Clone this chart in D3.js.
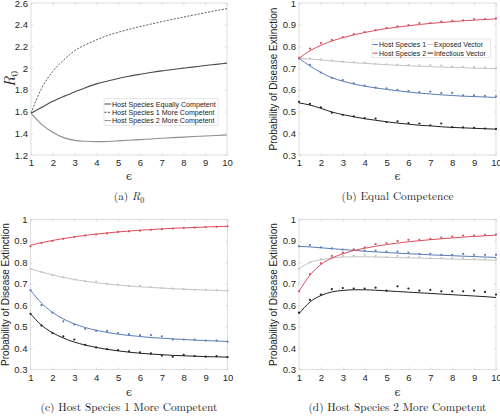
<!DOCTYPE html>
<html>
<head>
<meta charset="utf-8">
<script src="https://cdn.jsdelivr.net/npm/d3@7"></script>
<style>
  html, body { margin: 0; padding: 0; background: #fff; }
  svg { display: block; }
</style>
</head>
<body>
<svg id="chart" width="500" height="417"></svg>
<script>
// ---------- DATA ----------
const eps = [1, 1.5, 2, 2.5, 3, 3.5, 4, 4.5, 5, 5.5, 6, 6.5, 7, 7.5, 8, 8.5, 9, 9.5, 10];
const xTicks = [1, 2, 3, 4, 5, 6, 7, 8, 9, 10];
const r0Ticks = [1.2, 1.4, 1.6, 1.8, 2, 2.2, 2.4, 2.6];
const probTicks = [0.3, 0.4, 0.5, 0.6, 0.7, 0.8, 0.9, 1];

// (a) R0
const r0Equal = [1.585, 1.64, 1.695, 1.74, 1.78, 1.82, 1.855, 1.88, 1.905, 1.925, 1.943, 1.96, 1.975, 1.988, 2.0, 2.012, 2.024, 2.035, 2.046];
const r0Host1 = [1.585, 1.82, 1.97, 2.075, 2.16, 2.215, 2.26, 2.3, 2.33, 2.358, 2.383, 2.405, 2.428, 2.45, 2.47, 2.49, 2.51, 2.53, 2.548];
const r0Host2 = [1.585, 1.48, 1.41, 1.36, 1.335, 1.326, 1.323, 1.325, 1.33, 1.336, 1.342, 1.348, 1.354, 1.36, 1.365, 1.37, 1.375, 1.38, 1.384];
const r0Legend = ["Host Species Equally Competent", "Host Species 1 More Competent", "Host Species 2 More Competent"];

// (b) Equal competence: curve (analytic) and sim (points)
const bHost1Curve = [0.745, 0.71, 0.68, 0.656, 0.64, 0.627, 0.617, 0.609, 0.602, 0.596, 0.59, 0.585, 0.581, 0.577, 0.574, 0.571, 0.569, 0.567, 0.565];
const bHost1Sim   = [0.745, 0.715, 0.68, 0.655, 0.645, 0.63, 0.62, 0.61, 0.607, 0.6, 0.594, 0.59, 0.592, 0.585, 0.586, 0.575, 0.575, 0.572, 0.57];
const bHost2Curve = [0.745, 0.78, 0.805, 0.825, 0.84, 0.853, 0.864, 0.874, 0.882, 0.889, 0.895, 0.901, 0.906, 0.91, 0.914, 0.918, 0.921, 0.924, 0.927];
const bHost2Sim   = [0.745, 0.79, 0.815, 0.83, 0.843, 0.857, 0.866, 0.875, 0.885, 0.892, 0.898, 0.908, 0.908, 0.914, 0.918, 0.92, 0.926, 0.926, 0.929];
const bExpCurve   = [0.745, 0.742, 0.738, 0.733, 0.729, 0.725, 0.722, 0.719, 0.716, 0.713, 0.711, 0.709, 0.707, 0.705, 0.703, 0.702, 0.7, 0.699, 0.698];
const bExpSim     = [0.75, 0.745, 0.74, 0.735, 0.73, 0.727, 0.725, 0.72, 0.718, 0.716, 0.715, 0.713, 0.714, 0.712, 0.707, 0.706, 0.705, 0.703, 0.7];
const bInfCurve   = [0.54, 0.53, 0.515, 0.498, 0.486, 0.476, 0.467, 0.46, 0.453, 0.447, 0.442, 0.437, 0.434, 0.43, 0.427, 0.425, 0.423, 0.421, 0.419];
const bInfSim     = [0.545, 0.535, 0.52, 0.495, 0.485, 0.478, 0.47, 0.468, 0.452, 0.455, 0.447, 0.445, 0.437, 0.445, 0.428, 0.427, 0.425, 0.422, 0.42];

// (c) Host species 1 more competent
const cHost1Curve = [0.67, 0.61, 0.567, 0.536, 0.513, 0.496, 0.483, 0.473, 0.465, 0.459, 0.454, 0.449, 0.446, 0.443, 0.44, 0.437, 0.435, 0.433, 0.431];
const cHost1Sim   = [0.67, 0.6, 0.565, 0.525, 0.51, 0.49, 0.48, 0.48, 0.47, 0.465, 0.46, 0.46, 0.455, 0.44, 0.44, 0.44, 0.435, 0.435, 0.43];
const cHost2Curve = [0.88, 0.892, 0.902, 0.911, 0.919, 0.926, 0.932, 0.937, 0.942, 0.946, 0.95, 0.953, 0.956, 0.959, 0.961, 0.963, 0.965, 0.967, 0.968];
const cHost2Sim   = [0.875, 0.89, 0.9, 0.91, 0.918, 0.925, 0.93, 0.935, 0.942, 0.945, 0.948, 0.952, 0.955, 0.958, 0.96, 0.962, 0.965, 0.966, 0.968];
const cExpCurve   = [0.77, 0.755, 0.742, 0.73, 0.72, 0.712, 0.705, 0.699, 0.694, 0.69, 0.686, 0.683, 0.68, 0.677, 0.675, 0.673, 0.671, 0.669, 0.667];
const cExpSim     = [0.77, 0.755, 0.74, 0.73, 0.72, 0.712, 0.71, 0.7, 0.695, 0.69, 0.69, 0.685, 0.68, 0.677, 0.675, 0.672, 0.672, 0.67, 0.668];
const cInfCurve   = [0.56, 0.507, 0.472, 0.447, 0.428, 0.414, 0.403, 0.394, 0.387, 0.381, 0.376, 0.372, 0.369, 0.366, 0.364, 0.362, 0.36, 0.359, 0.358];
const cInfSim     = [0.56, 0.505, 0.47, 0.455, 0.44, 0.415, 0.403, 0.395, 0.39, 0.385, 0.38, 0.375, 0.365, 0.36, 0.368, 0.363, 0.36, 0.362, 0.358];

// (d) Host species 2 more competent
const dHost1Curve = [0.875, 0.872, 0.868, 0.864, 0.86, 0.856, 0.852, 0.849, 0.846, 0.843, 0.84, 0.838, 0.835, 0.833, 0.831, 0.829, 0.827, 0.825, 0.823];
const dHost1Sim   = [0.875, 0.88, 0.87, 0.865, 0.86, 0.86, 0.855, 0.855, 0.85, 0.85, 0.845, 0.84, 0.84, 0.835, 0.835, 0.84, 0.835, 0.835, 0.835];
const dHost2Curve = [0.665, 0.74, 0.79, 0.82, 0.84, 0.855, 0.866, 0.875, 0.883, 0.89, 0.896, 0.901, 0.906, 0.91, 0.914, 0.918, 0.921, 0.924, 0.927];
const dHost2Sim   = [0.665, 0.745, 0.795, 0.83, 0.845, 0.86, 0.87, 0.885, 0.89, 0.9, 0.905, 0.905, 0.91, 0.915, 0.92, 0.925, 0.925, 0.928, 0.93];
const dExpCurve   = [0.77, 0.8, 0.812, 0.82, 0.825, 0.826, 0.826, 0.825, 0.824, 0.822, 0.821, 0.82, 0.818, 0.817, 0.815, 0.814, 0.813, 0.811, 0.81];
const dExpSim     = [0.77, 0.8, 0.815, 0.82, 0.83, 0.83, 0.835, 0.83, 0.825, 0.83, 0.825, 0.825, 0.82, 0.82, 0.82, 0.82, 0.815, 0.815, 0.815];
const dInfCurve   = [0.56, 0.615, 0.645, 0.662, 0.669, 0.672, 0.672, 0.67, 0.667, 0.664, 0.661, 0.658, 0.655, 0.652, 0.649, 0.646, 0.643, 0.64, 0.636];
const dInfSim     = [0.565, 0.625, 0.65, 0.675, 0.68, 0.678, 0.678, 0.682, 0.668, 0.688, 0.678, 0.668, 0.672, 0.665, 0.665, 0.665, 0.668, 0.662, 0.65];

const probLegend = ["Host Species 1", "Host Species 2", "Exposed Vector", "Infectious Vector"];

// ---------- STYLE ----------
const C = { host1: "#5b7cb9", host2: "#d9505e", exp: "#c4c4c4", inf: "#222222" };
const axisColor = "#d6d6d6";
const tickText = "#262626";
const sans = "'Liberation Sans', Arial, sans-serif";
const serif = "'Latin Modern Roman', 'DejaVu Serif', 'Liberation Serif', serif";

const svg = d3.select("#chart");

function fmt(v) { return String(+v.toFixed(2)); }

function makePanel(cfg) {
  const x = d3.scaleLinear().domain([1, 10]).range([cfg.left, cfg.right]);
  const y = d3.scaleLinear().domain(cfg.yDomain).range([cfg.bottom, cfg.top]);
  const g = svg.append("g");

  g.append("rect").attr("x", cfg.left).attr("y", cfg.top)
    .attr("width", cfg.right - cfg.left).attr("height", cfg.bottom - cfg.top)
    .attr("fill", "none").attr("stroke", axisColor).attr("stroke-width", 0.8);

  const xb = d3.axisBottom(x).tickValues(xTicks).tickSize(-2.2).tickPadding(4).tickFormat(d3.format("d"));
  const xt = d3.axisTop(x).tickValues(xTicks).tickSize(-2.2).tickFormat("");
  const yl = d3.axisLeft(y).tickValues(cfg.yTicks).tickSize(-2.2).tickPadding(3).tickFormat(fmt);
  const yr = d3.axisRight(y).tickValues(cfg.yTicks).tickSize(-2.2).tickFormat("");

  function styleAxis(sel) {
    sel.select(".domain").remove();
    sel.selectAll(".tick line").attr("stroke", axisColor).attr("stroke-width", 0.8);
    sel.selectAll(".tick text").attr("fill", tickText).attr("font-family", sans).attr("font-size", "9.5px");
  }
  g.append("g").attr("transform", `translate(0,${cfg.bottom})`).call(xb).call(styleAxis)
    .selectAll(".tick text").attr("dy", "0.71em").attr("y", cfg.tickY);
  g.append("g").attr("transform", `translate(0,${cfg.top})`).call(xt).call(styleAxis);
  g.append("g").attr("transform", `translate(${cfg.left},0)`).call(yl).call(styleAxis);
  g.append("g").attr("transform", `translate(${cfg.right},0)`).call(yr).call(styleAxis);

  const line = d3.line().x((d, i) => x(eps[i])).y(d => y(d)).curve(d3.curveMonotoneX);

  cfg.series.forEach(s => {
    g.append("path").datum(s.curve).attr("d", line)
      .attr("fill", "none").attr("stroke", s.color).attr("stroke-width", s.width || 1)
      .attr("stroke-dasharray", s.dash || null);
    if (s.sim) {
      g.append("g").selectAll("circle").data(s.sim).join("circle")
        .attr("cx", (d, i) => x(eps[i])).attr("cy", d => y(d))
        .attr("r", 1.1).attr("fill", s.color);
    }
  });

  const cx = (cfg.left + cfg.right) / 2;
  g.append("text").attr("x", cx).attr("y", cfg.bottom + cfg.epsY)
    .attr("text-anchor", "middle").attr("font-family", serif).attr("font-size", "11px")
    .attr("fill", "#333").text("\u03F5");

  const cap = g.append("text").attr("x", cx).attr("y", cfg.bottom + cfg.capY)
    .attr("text-anchor", "middle").attr("font-family", serif).attr("font-size", "11.3px").attr("fill", "#222");
  if (cfg.captionR0) {
    cap.append("tspan").text("(a) ");
    cap.append("tspan").attr("font-style", "italic").text("R");
    cap.append("tspan").attr("font-size", "8px").attr("dy", "2.5").text("0");
  } else {
    cap.text(cfg.caption);
  }

  const cy = (cfg.top + cfg.bottom) / 2;
  if (cfg.yLabelR0) {
    const t = g.append("text").attr("transform", `translate(${cfg.left - 16},${cy}) rotate(-90)`)
      .attr("text-anchor", "middle").attr("font-family", serif).attr("font-size", "15px").attr("fill", "#222");
    t.append("tspan").attr("font-style", "italic").text("R");
    t.append("tspan").attr("font-size", "10.5px").attr("dy", "3").text("0");
  } else {
    g.append("text").attr("transform", `translate(${cfg.left - 22},${cy}) rotate(-90)`)
      .attr("text-anchor", "middle").attr("font-family", sans).attr("font-size", "10px")
      .attr("fill", "#222").text("Probability of Disease Extinction");
  }
  return { g, x, y };
}

// ---------- PANEL (a) ----------
const pa = makePanel({
  left: 31, right: 227, top: 3, bottom: 155, yDomain: [1.2, 2.6], yTicks: r0Ticks,
  tickY: 4, epsY: 24.5, capY: 45,
  captionR0: true, yLabelR0: true,
  series: [
    { curve: r0Equal, color: "#4a4a4a", width: 1.1 },
    { curve: r0Host1, color: "#4a4a4a", width: 0.9, dash: "2,1.5" },
    { curve: r0Host2, color: "#8f8f8f", width: 1.1 }
  ]
});
{
  const lg = pa.g.append("g");
  lg.append("rect").attr("x", 104).attr("y", 98.5).attr("width", 114).attr("height", 27)
    .attr("fill", "#fff").attr("stroke", "#e2e2e2").attr("stroke-width", 0.8);
  const styles = [
    { color: "#4a4a4a", dash: null }, { color: "#4a4a4a", dash: "2,1.5" }, { color: "#8f8f8f", dash: null }
  ];
  r0Legend.forEach((t, i) => {
    const yy = 104 + i * 8.3;
    lg.append("line").attr("x1", 104.5).attr("x2", 111).attr("y1", yy).attr("y2", yy)
      .attr("stroke", styles[i].color).attr("stroke-width", 1).attr("stroke-dasharray", styles[i].dash);
    lg.append("text").attr("x", 112).attr("y", yy + 2.5).attr("font-family", sans)
      .attr("font-size", "7.1px").attr("fill", "#222").text(t);
  });
}

// ---------- PANEL (b) ----------
const pb = makePanel({
  left: 299, right: 496, top: 3, bottom: 155, yDomain: [0.3, 1], yTicks: probTicks,
  tickY: 4, epsY: 24.5, capY: 45,
  caption: "(b) Equal Competence",
  series: [
    { curve: bExpCurve, sim: bExpSim, color: C.exp },
    { curve: bHost1Curve, sim: bHost1Sim, color: C.host1 },
    { curve: bInfCurve, sim: bInfSim, color: C.inf },
    { curve: bHost2Curve, sim: bHost2Sim, color: C.host2 }
  ]
});
{
  const lg = pb.g.append("g");
  lg.append("rect").attr("x", 372).attr("y", 39).attr("width", 118.5).attr("height", 18.5)
    .attr("fill", "#fff").attr("stroke", "#e2e2e2").attr("stroke-width", 0.8);
  const cols = [C.host1, C.host2, C.exp, C.inf];
  probLegend.forEach((t, i) => {
    const col = Math.floor(i / 2), row = i % 2;
    const x0 = col === 0 ? 372.5 : 427.5;
    const yy = 44.5 + row * 8.6;
    lg.append("line").attr("x1", x0).attr("x2", x0 + 5.5).attr("y1", yy).attr("y2", yy)
      .attr("stroke", cols[i]).attr("stroke-width", 1);
    lg.append("text").attr("x", x0 + 6.5).attr("y", yy + 2.5).attr("font-family", sans)
      .attr("font-size", "7px").attr("fill", "#222").text(t);
  });
}

// ---------- PANEL (c) ----------
makePanel({
  left: 30.5, right: 227.5, top: 219.5, bottom: 369.5, yDomain: [0.3, 1], yTicks: probTicks,
  tickY: 4.5, epsY: 26, capY: 41.5,
  caption: "(c) Host Species 1 More Competent",
  series: [
    { curve: cExpCurve, sim: cExpSim, color: C.exp },
    { curve: cHost1Curve, sim: cHost1Sim, color: C.host1 },
    { curve: cInfCurve, sim: cInfSim, color: C.inf },
    { curve: cHost2Curve, sim: cHost2Sim, color: C.host2 }
  ]
});

// ---------- PANEL (d) ----------
makePanel({
  left: 299, right: 496, top: 219.5, bottom: 369.5, yDomain: [0.3, 1], yTicks: probTicks,
  tickY: 4.5, epsY: 26, capY: 41.5,
  caption: "(d) Host Species 2 More Competent",
  series: [
    { curve: dExpCurve, sim: dExpSim, color: C.exp },
    { curve: dHost1Curve, sim: dHost1Sim, color: C.host1 },
    { curve: dInfCurve, sim: dInfSim, color: C.inf },
    { curve: dHost2Curve, sim: dHost2Sim, color: C.host2 }
  ]
});
</script>
</body>
</html>
